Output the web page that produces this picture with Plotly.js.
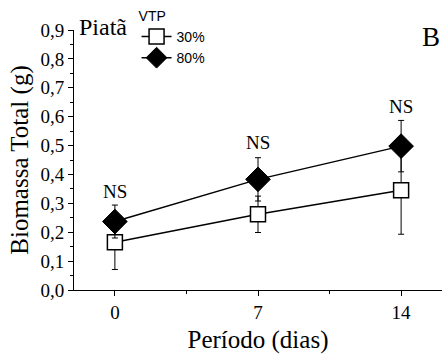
<!DOCTYPE html>
<html><head><meta charset="utf-8">
<script src="https://cdn.plot.ly/plotly-3.0.1.min.js"></script>
<style>body{margin:0;background:#fff}#c{width:445px;height:358px}</style>
</head><body><div id="c"></div>
<script>
const days = [0, 7, 14];
const tickLabelsX = ['0', '7', '14'];
const vtp30 = [0.165, 0.262, 0.345];
const vtp30err = [0.094, 0.063, 0.152];
const vtp80 = [0.237, 0.383, 0.498];
const vtp80err = [0.057, 0.075, 0.089];
const signif = ['NS', 'NS', 'NS'];
const signifY = [0.34, 0.51, 0.635];
const yTicks = [0,0.1,0.2,0.3,0.4,0.5,0.6,0.7,0.8,0.9];
const yTickLabels = ['0,0','0,1','0,2','0,3','0,4','0,5','0,6','0,7','0,8','0,9'];

const times = 'Liberation Serif, Times New Roman, serif';
const arial = 'Liberation Sans, Arial, sans-serif';
const traces = [
  {x: days, y: vtp30, name: '30%', type: 'scatter', mode: 'lines+markers',
   line: {color: '#000', width: 1.5},
   marker: {symbol: 'square', size: 15, color: '#fff', line: {color: '#000', width: 1.5}},
   error_y: {type: 'data', array: vtp30err, visible: true, color: '#000', thickness: 1, width: 3}},
  {x: days, y: vtp80, name: '80%', type: 'scatter', mode: 'lines+markers',
   line: {color: '#000', width: 1.5},
   marker: {symbol: 'diamond', size: 19, color: '#000', line: {color: '#000', width: 1}},
   error_y: {type: 'data', array: vtp80err, visible: true, color: '#000', thickness: 1, width: 3}}
];
const annotations = days.map((d, i) => ({x: d, y: signifY[i], text: signif[i], showarrow: false,
  font: {family: times, size: 19, color: '#000'}}));
annotations.push({xref: 'paper', yref: 'paper', x: 0.008, y: 1.01, xanchor: 'left', yanchor: 'middle',
  text: 'Piatã', showarrow: false, font: {family: times, size: 24, color: '#000'}});
annotations.push({xref: 'paper', yref: 'paper', x: 1.0, y: 0.975, xanchor: 'right', yanchor: 'middle',
  text: 'B', showarrow: false, font: {family: times, size: 27, color: '#000'}});

const layout = {
  width: 445, height: 358,
  margin: {l: 74, r: 3, t: 27, b: 68},
  paper_bgcolor: '#fff', plot_bgcolor: '#fff',
  showlegend: true,
  legend: {x: 0.17, y: 1.105, xanchor: 'left', yanchor: 'top', bgcolor: 'rgba(0,0,0,0)',
    font: {family: arial, size: 14, color: '#000'},
    title: {text: 'VTP', side: 'top', font: {family: arial, size: 14, color: '#000'}},
    itemwidth: 30, tracegroupgap: 0},
  xaxis: {range: [-2, 16], tickvals: days, ticktext: tickLabelsX, ticks: 'outside', ticklen: 5,
    tickcolor: '#000', showline: true, linecolor: '#000', linewidth: 1, showgrid: false, zeroline: false,
    tickfont: {family: times, size: 19, color: '#000'},
    minor: {tickvals: [3.5, 10.5], ticks: 'outside', ticklen: 3, tickcolor: '#000'},
    title: {text: 'Período (dias)', font: {family: times, size: 25, color: '#000'}, standoff: 8}},
  yaxis: {range: [0, 0.9], tickvals: yTicks, ticktext: yTickLabels, ticks: 'outside', ticklen: 5,
    tickcolor: '#000', showline: true, linecolor: '#000', linewidth: 1, showgrid: false, zeroline: false,
    tickfont: {family: times, size: 19, color: '#000'},
    minor: {dtick: 0.05, tick0: 0, ticks: 'outside', ticklen: 3, tickcolor: '#000'},
    title: {text: 'Biomassa Total (g)', font: {family: times, size: 25, color: '#000'}, standoff: 4}},
  annotations: annotations
};
Plotly.newPlot('c', traces, layout, {displayModeBar: false, staticPlot: true});
</script></body></html>
